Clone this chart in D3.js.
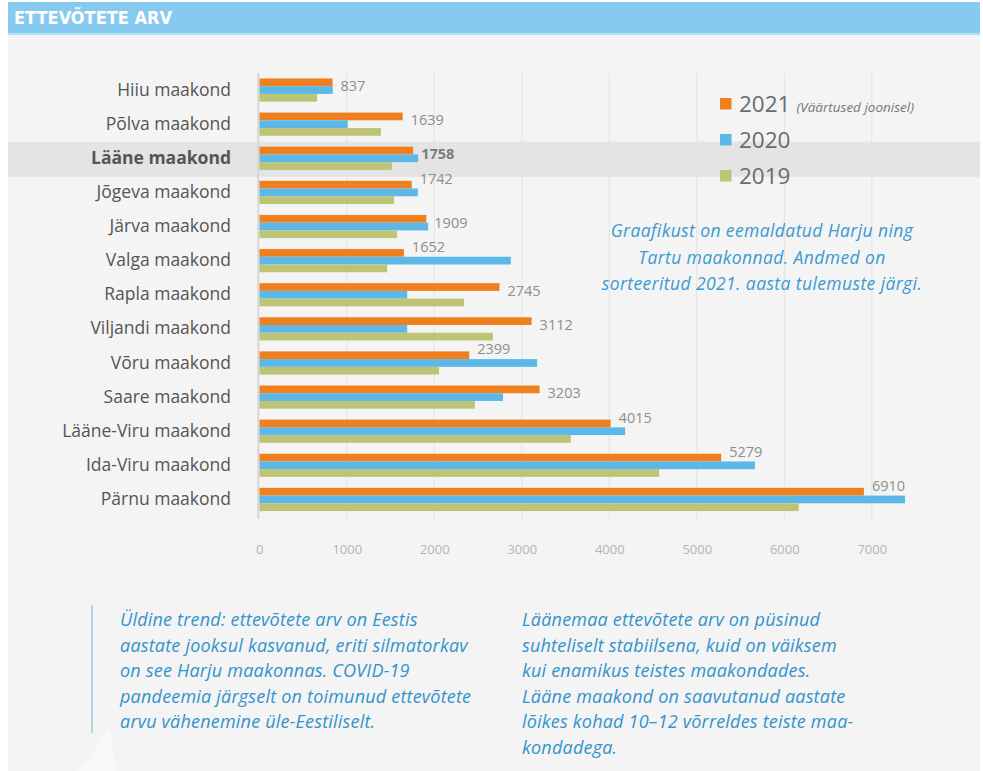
<!DOCTYPE html>
<html>
<head>
<meta charset="utf-8">
<script src="https://cdn.jsdelivr.net/npm/d3@7"></script>
<style>
  body { margin: 0; background: #fff; }
  svg { display: block; }
</style>
</head>
<body>
<div id="chart"></div>
<script>
// data
const counties = ["Hiiu maakond", "Põlva maakond", "Lääne maakond", "Jõgeva maakond", "Järva maakond",
  "Valga maakond", "Rapla maakond", "Viljandi maakond", "Võru maakond", "Saare maakond",
  "Lääne-Viru maakond", "Ida-Viru maakond", "Pärnu maakond"];
const years = ["2021", "2020", "2019"];
const v2021 = [837, 1639, 1758, 1742, 1909, 1652, 2745, 3112, 2399, 3203, 4015, 5279, 6910];
const v2020 = [840, 1010, 1815, 1812, 1930, 2875, 1690, 1690, 3175, 2785, 4180, 5665, 7380];
const v2019 = [660, 1390, 1515, 1540, 1575, 1460, 2340, 2670, 2055, 2465, 3560, 4570, 6165];
const ticks = [0, 1000, 2000, 3000, 4000, 5000, 6000, 7000];
const highlight = "Lääne maakond";
const note = ["Graafikust on eemaldatud Harju ning", "Tartu maakonnad. Andmed on", "sorteeritud 2021. aasta tulemuste järgi."];
const textLeft = ["Üldine trend: ettevõtete arv on Eestis", "aastate jooksul kasvanud, eriti silmatorkav",
  "on see  Harju maakonnas. COVID-19", "pandeemia järgselt on toimunud ettevõtete", "arvu vähenemine üle-Eestiliselt."];
const textRight = ["Läänemaa ettevõtete arv on püsinud", "suhteliselt stabiilsena, kuid on väiksem",
  "kui enamikus teistes maakondades.", "Lääne maakond on saavutanud aastate", "lõikes kohad 10–12 võrreldes teiste maa-", "kondadega."];

const colors = { "2021": "#F0801E", "2020": "#5CB8E8", "2019": "#BDC476" };
const series = { "2021": v2021, "2020": v2020, "2019": v2019 };

const W = 983, H = 771;
const svg = d3.select("#chart").append("svg").attr("width", W).attr("height", H);

// panel background
svg.append("rect").attr("x", 8).attr("y", 2).attr("width", W - 11).attr("height", H - 2).attr("fill", "#F3F4F3");
// faint decoration at the bottom
svg.append("path").attr("d", "M78,771 L110,728 L116,771 Z").attr("fill", "#F7F8F8");

// header
svg.append("rect").attr("x", 8).attr("y", 2).attr("width", W - 11).attr("height", 31).attr("fill", "#86CBEF");
svg.append("rect").attr("x", 8).attr("y", 33).attr("width", W - 11).attr("height", 2).attr("fill", "#B5DEF4");
svg.append("text").attr("x", 14).attr("y", 24).text("ETTEVÕTETE ARV")
  .attr("font-family", "Liberation Sans Narrow, DejaVu Sans Condensed, sans-serif")
  .attr("font-size", 18).attr("font-weight", "bold").attr("fill", "#fff");

const x = d3.scaleLinear().domain([0, 7000]).range([259.3, 871.8]);
const y = d3.scaleBand().domain(counties).range([73, 516.5]).paddingInner(0.32).paddingOuter(0.16);
const yy = d3.scaleBand().domain(years).range([0, y.bandwidth()]);

// highlight band
const step = y.step();
svg.append("rect").attr("x", 8).attr("width", W - 11)
  .attr("y", y(highlight) + y.bandwidth() / 2 - step / 2 + 0.5).attr("height", step + 1)
  .attr("fill", "#E3E4E3");

// grid
svg.append("g").selectAll("line").data(ticks.slice(1)).join("line")
  .attr("x1", d => x(d)).attr("x2", d => x(d)).attr("y1", 73).attr("y2", 519)
  .attr("stroke", "#E2E3E2").attr("stroke-width", 1);

// x axis labels
const xAxis = svg.append("g").attr("transform", "translate(0,542)")
  .call(d3.axisBottom(x).tickValues(ticks).tickFormat(d3.format("d")).tickSize(0));
xAxis.select(".domain").remove();
xAxis.selectAll("text").attr("font-family", "Open Sans, sans-serif").attr("font-size", 13).attr("fill", "#B3B5B5");

// bars
counties.forEach((c, i) => {
  const g = svg.append("g").attr("transform", `translate(0,${y(c)})`);
  g.selectAll("rect").data(years).join("rect")
    .attr("x", x(0)).attr("y", d => yy(d))
    .attr("width", d => x(series[d][i]) - x(0)).attr("height", yy.bandwidth())
    .attr("fill", d => colors[d]);
  const oEnd = x(v2021[i]);
  const bEnd = x(v2020[i]);
  const above = bEnd > oEnd + 5;
  g.append("text")
    .attr("x", oEnd + 8)
    .attr("y", above ? yy("2021") + 3 : yy("2021") + yy.bandwidth() + 5)
    .text(v2021[i])
    .attr("font-family", "Open Sans, sans-serif").attr("font-size", 14.5)
    .attr("font-weight", c === highlight ? "bold" : "normal")
    .attr("fill", c === highlight ? "#7c7c7c" : "#8E8E8E");
});

// y axis line
svg.append("line").attr("x1", x(0) - 1).attr("x2", x(0) - 1).attr("y1", 73).attr("y2", 519)
  .attr("stroke", "#D5D6D5").attr("stroke-width", 2);

// y labels
const yAxis = svg.append("g").attr("transform", "translate(231,0)")
  .call(d3.axisLeft(y).tickSize(0).tickPadding(0));
yAxis.select(".domain").remove();
yAxis.selectAll("text")
  .attr("font-family", "Open Sans, sans-serif").attr("font-size", 17.5).attr("fill", "#555")
  .attr("font-weight", d => d === highlight ? "bold" : "normal");

// legend
const legend = svg.append("g").attr("transform", "translate(720,98)");
years.forEach((yr, i) => {
  const row = legend.append("g").attr("transform", `translate(0,${i * 36})`);
  row.append("rect").attr("width", 11.5).attr("height", 11.5).attr("fill", colors[yr]);
  const t = row.append("text").attr("x", 19).attr("y", 14)
    .attr("font-family", "Open Sans, sans-serif").attr("font-size", 22.5).attr("fill", "#6B6B6B");
  t.append("tspan").text(yr);
  if (i === 0) t.append("tspan").attr("dx", 6).attr("font-size", 13.5).attr("font-style", "italic").attr("fill", "#777").text("(Väärtused joonisel)");
});

// note
svg.append("g").selectAll("text").data(note).join("text")
  .attr("x", 762).attr("y", (d, i) => 237 + i * 26.5).attr("text-anchor", "middle")
  .attr("font-family", "Open Sans, sans-serif").attr("font-style", "italic").attr("font-size", 17.5)
  .attr("letter-spacing", 0.4)
  .attr("fill", "#3A9AD2").text(d => d);

// bottom texts
svg.append("line").attr("x1", 92).attr("x2", 92).attr("y1", 605).attr("y2", 733).attr("stroke", "#7FB3D0").attr("stroke-width", 1);
function block(lines, x0) {
  svg.append("g").selectAll("text").data(lines).join("text")
    .attr("x", x0).attr("y", (d, i) => 626 + i * 25.6)
    .attr("font-family", "Open Sans, sans-serif").attr("font-style", "italic").attr("font-size", 18)
    .attr("letter-spacing", 0.2)
    .attr("fill", "#3393CD").text(d => d);
}
block(textLeft, 120);
block(textRight, 522);
</script>
</body>
</html>
